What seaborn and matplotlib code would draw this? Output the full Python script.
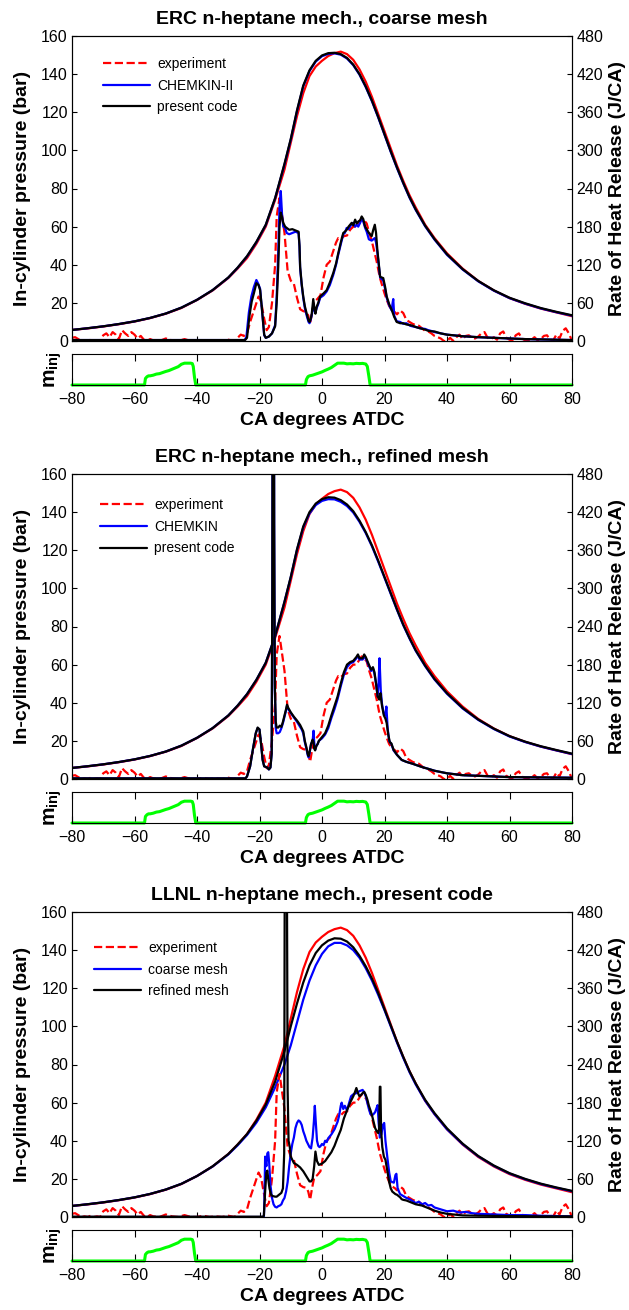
import numpy as np
import pandas as pd
import matplotlib
matplotlib.use('Agg')
import matplotlib.pyplot as plt
import seaborn as sns

# crank angle grid for the pressure traces (deg ATDC)
CA_P = [-80, -75, -70, -65, -60, -55, -50, -45, -40, -35, -30, -27, -24, -21, -18, -15,
        -12, -10, -8, -6, -4, -2, 0, 2, 4, 6, 8, 10, 12, 14, 16, 18, 20, 22, 24, 26, 28,
        30, 33, 36, 40, 45, 50, 55, 60, 65, 70, 75, 80]

# in-cylinder pressure (bar)
P_EXP = [5.8, 6.6, 7.6, 8.8, 10.2, 12.0, 14.3, 17.3, 21.5, 26.5, 33.0, 38.0, 43.5, 51.0, 60.0, 74.0,
         90.0, 104.0, 118.0, 130.0, 139.0, 144.0, 147.0, 149.5, 151.0, 151.8, 150.5, 147.5, 142.5, 136.0,
         128.0, 119.0, 110.0, 101.0, 92.0, 84.0, 76.5, 70.0, 61.0, 54.0, 46.0, 38.0, 31.5, 26.5, 22.5,
         19.5, 17.0, 15.0, 13.0]
P1_CHEMKIN = [5.8, 6.7, 7.7, 8.9, 10.3, 12.1, 14.4, 17.5, 21.6, 26.7, 33.2, 38.4, 44.3, 51.8, 60.8, 74.8,
              92.6, 105.6, 120.6, 133.6, 141.6, 146.6, 149.4, 150.6, 150.9, 150.2, 148.2, 144.7, 139.7,
              133.2, 125.7, 117.2, 108.2, 99.2, 90.7, 82.7, 75.2, 68.7, 60.2, 53.2, 45.2, 37.5, 31.3, 26.4,
              22.5, 19.6, 17.1, 15.1, 13.3]
P1_CODE = [5.8, 6.7, 7.7, 8.9, 10.3, 12.1, 14.4, 17.5, 21.6, 26.7, 33.3, 38.5, 44.5, 52.0, 61.0, 75.0,
           93.0, 106.0, 121.0, 134.0, 142.0, 147.0, 149.8, 151.0, 151.2, 150.5, 148.5, 145.0, 140.0, 133.5,
           126.0, 117.5, 108.5, 99.5, 91.0, 83.0, 75.5, 69.0, 60.5, 53.5, 45.5, 37.7, 31.5, 26.6, 22.7,
           19.8, 17.3, 15.3, 13.5]
P2_CHEMKIN = [5.8, 6.7, 7.7, 8.9, 10.3, 12.1, 14.4, 17.5, 21.6, 26.7, 33.3, 38.5, 44.5, 52.0, 61.0, 75.0,
              93.0, 105.8, 120.2, 132.0, 139.3, 143.7, 145.9, 146.8, 146.7, 145.4, 143.2, 139.8, 134.9,
              129.0, 122.0, 114.0, 105.6, 97.1, 88.7, 80.7, 73.7, 67.2, 59.2, 52.2, 44.7, 37.0, 31.0, 26.2,
              22.3, 19.4, 17.0, 15.0, 13.1]
P2_CODE = [5.8, 6.7, 7.7, 8.9, 10.3, 12.1, 14.4, 17.5, 21.6, 26.7, 33.3, 38.5, 44.5, 52.0, 61.0, 75.0,
           93.0, 106.0, 120.5, 132.5, 140.0, 144.5, 146.8, 147.8, 147.6, 146.3, 144.0, 140.5, 135.5, 129.5,
           122.5, 114.5, 106.0, 97.5, 89.0, 81.0, 74.0, 67.5, 59.5, 52.5, 45.0, 37.3, 31.2, 26.4, 22.5,
           19.6, 17.2, 15.2, 13.3]
P3_COARSE = [5.8, 6.7, 7.7, 8.9, 10.3, 12.1, 14.4, 17.4, 21.5, 26.5, 32.8, 37.6, 43.0, 49.5, 57.5, 68.0,
             80.0, 90.0, 102.0, 114.0, 124.0, 132.0, 138.0, 142.0, 143.8, 143.8, 142.5, 140.0, 136.0, 130.5,
             124.0, 116.5, 108.5, 100.0, 91.5, 83.5, 76.0, 69.5, 61.0, 54.0, 46.0, 38.2, 31.8, 26.8, 22.8,
             19.8, 17.3, 15.3, 13.5]
P3_REFINED = [5.8, 6.7, 7.7, 8.9, 10.3, 12.1, 14.4, 17.4, 21.5, 26.6, 33.0, 38.0, 43.5, 50.5, 59.0, 71.0,
              87.0, 100.0, 112.0, 123.0, 132.0, 138.5, 142.5, 145.0, 146.2, 146.0, 144.5, 141.5, 137.0,
              131.5, 125.0, 117.5, 109.0, 100.5, 92.0, 84.0, 76.5, 70.0, 61.5, 54.5, 46.5, 38.5, 32.0, 27.0,
              23.0, 20.0, 17.5, 15.5, 13.7]

# rate of heat release (J/CA), experiment
HRR_EXP_CA = [-80, -79, -78, -77, -76, -75, -74, -73, -72, -71, -70, -69, -68, -67, -66, -65, -64, -63,
              -62, -61, -60, -59, -58, -57, -56, -55, -54, -52, -50, -48, -46, -44, -42, -40, -38, -36,
              -34, -32, -30, -28, -27, -26, -25, -24, -23, -22, -21, -20.3, -19.5, -18.5, -17.7, -17, -16,
              -15, -14.5, -13.6, -13, -12, -11, -10, -9, -8, -7, -6, -5, -4.4, -3.8, -3.2, -2.5, -1.5,
              -0.5, 0.5, 1.5, 2.5, 3.5, 4.5, 5.2, 6, 7, 8, 9, 10, 11, 12, 12.7, 13.5, 14.3, 15, 15.9,
              17.5, 18.5, 19.1, 20, 20.7, 21.5, 22.5, 23.4, 24, 25, 26, 27, 28, 29, 30, 31, 32, 33, 34,
              35, 36, 37, 38, 39, 40, 41, 42, 43, 44, 45, 46, 47, 48, 49, 50, 51, 52, 53, 54, 55, 56, 57,
              58, 59, 60, 61, 62, 63, 64, 65, 66, 67, 68, 69, 70, 71, 72, 73, 74, 75, 76, 77, 78, 79, 80]
HRR_EXP = [5, 6, 3, 0, 1, 0, 2, 0, 1, 0, 9, 12, 6, 14, 10, 3, 17, 12, 8, 14, 10, 4, 8, 2, 0, 3, 1, 0, 4,
           1, 0, 3, 0, 0, 2, 0, 1, 0, 2, 0, 5, 10, 8, 12, 30, 45, 60, 70, 62, 35, 17, 22, 60, 120, 196, 225,
           205, 170, 110, 95, 90, 68, 50, 47, 46, 40, 27, 45, 62, 66, 72, 100, 120, 125, 140, 155, 162, 160,
           165, 166, 175, 180, 180, 188, 193, 190, 185, 172, 158, 125, 100, 90, 75, 65, 55, 48, 45, 42, 48,
           44, 33, 30, 27, 25, 24, 20, 16, 15, 12, 8, 6, 4, 0, 0, 5, 0, 6, 10, 3, 8, 9, 5, 4, 7, 12, 14, 5,
           3, 6, 2, 12, 15, 5, 2, 1, 9, 12, 4, 1, 0, 2, 6, 1, 3, 8, 9, 2, 1, 10, 4, 16, 20, 12, 0]

# panel 1: ERC mechanism, coarse mesh
HRR1_CHEMKIN_CA = [-80, -60, -40, -30, -24.8, -24.2, -23.4, -22.6, -21.8, -21, -20.4, -19.8, -19.2, -18.5,
                   -18, -17, -16, -15, -14.5, -14, -13.6, -13.2, -12.8, -12.4, -11.8, -11.3, -10.5, -9.5,
                   -8.5, -7.5, -7.2, -7, -6.5, -6, -5.5, -4.9, -4.3, -4, -3.6, -3.3, -2.9, -2.4, -2.1, -1.7,
                   -1.2, -0.6, 0.5, 1.5, 2.5, 3.6, 4.5, 5.2, 6, 6.8, 7.3, 7.9, 8.5, 9.5, 10, 10.6, 11.1,
                   11.6, 12.2, 12.7, 13.2, 13.8, 14.3, 15, 15.9, 16.4, 16.9, 17.3, 17.7, 18.2, 18.6, 19.6,
                   20.2, 20.7, 21.5, 22.3, 22.6, 22.8, 23.1, 23.9, 25, 26, 27, 28.2, 29, 30, 31.4, 33, 34,
                   35.6, 36, 38, 40, 42, 45, 50, 55, 60, 65, 70, 75, 80]
HRR1_CHEMKIN = [1.5, 1.5, 1.5, 1.5, 1.5, 6, 45, 70, 85, 96, 90, 82, 48, 9, 5, 7, 12, 25, 70, 140, 210, 236,
                200, 180, 178, 170, 168, 170, 172, 170, 148, 115, 88, 68, 52, 40, 30, 28, 34, 40, 52, 48,
                45, 52, 58, 68, 72, 78, 88, 104, 120, 136, 152, 168, 170, 178, 176, 184, 186, 180, 183,
                180, 186, 192, 188, 178, 172, 160, 158, 160, 162, 155, 140, 118, 100, 95, 82, 68, 56, 48,
                60, 66, 40, 31, 30, 27, 28, 24, 23, 22, 20, 19, 17, 15, 14, 12, 10, 9, 7.5, 6, 5, 4, 3,
                2.5, 2, 1.5]
HRR1_CODE_CA = [-80, -60, -40, -30, -24.6, -24, -23.2, -22.5, -21.8, -21, -20.3, -19.8, -19.2, -18.5, -18,
                -17, -16, -15, -14.5, -14, -13.6, -13.2, -12.8, -12.4, -11.8, -11.3, -10.5, -9.5, -8.5,
                -7.5, -7.2, -7, -6.5, -6, -5.5, -4.9, -4.3, -4, -3.6, -3.3, -2.8, -2.4, -2.1, -1.7, -1.2,
                -0.6, 0.5, 1.5, 2.5, 3.6, 4.5, 5.2, 6, 6.8, 7.3, 7.9, 8.5, 9.5, 10, 10.6, 11.1, 11.6,
                12.2, 12.7, 13.2, 13.8, 14.3, 15, 15.9, 16.4, 16.9, 17.3, 17.7, 18.2, 18.6, 19.6, 20.2,
                20.7, 21.5, 22.3, 23.1, 23.9, 25, 26, 27, 28.2, 29, 30, 31.4, 33, 34, 35.6, 36, 38, 40,
                42, 45, 50, 55, 60, 65, 70, 75, 80]
HRR1_CODE = [1.5, 1.5, 1.5, 1.5, 1.5, 5, 40, 62, 75, 91, 88, 80, 50, 10, 5, 7, 12, 23, 60, 117, 180, 202,
             195, 186, 180, 178, 175, 176, 174, 172, 150, 117, 90, 70, 55, 43, 32, 30, 35, 42, 66, 50, 43,
             54, 60, 70, 75, 80, 92, 107, 122, 138, 155, 170, 172, 175, 180, 186, 182, 191, 185, 188, 190,
             196, 192, 180, 176, 170, 165, 175, 183, 170, 144, 120, 101, 99, 85, 70, 58, 49, 38, 30, 28,
             28, 26, 25, 24, 22, 20, 18, 16, 15, 15, 12, 10, 9, 7.5, 6, 5, 4, 3, 2.5, 2, 1.5]

# panel 2: ERC mechanism, refined mesh
HRR2_CHEMKIN_CA = [-80, -60, -40, -30, -24.5, -24, -23, -22, -21.2, -20.6, -20, -19.5, -19, -18.5, -18,
                   -17.5, -17, -16.5, -16.1, -15.9, -15.7, -15.5, -15.3, -15.1, -14.8, -14.5, -14, -13.5,
                   -13, -12.5, -12, -11.5, -11.2, -10.8, -10, -9, -8, -7, -6.5, -6, -5.5, -5, -4.6, -4.3,
                   -4, -3.5, -3, -2.7, -2.5, -2.2, -1.8, -1.4, -1, 0, 1, 2, 3, 4, 5, 6, 7, 8, 9, 10, 11,
                   11.5, 12, 13, 13.5, 14, 15, 15.7, 16.3, 16.8, 17.3, 17.8, 18.1, 18.4, 18.8, 19.2, 19.8,
                   20.3, 20.6, 21, 21.5, 22.2, 22.9, 24, 25.5, 27, 29, 31.9, 34, 36, 38, 40, 45, 50, 55,
                   60, 70, 80]
HRR2_CHEMKIN = [1, 1, 1, 1, 1, 4, 20, 50, 72, 80, 78, 55, 30, 20, 19, 18, 15, 18, 40, 300, 1000, 1000,
                400, 140, 80, 72, 72, 74, 80, 88, 98, 108, 115, 110, 104, 97, 90, 82, 78, 72, 58, 48, 38,
                34, 40, 55, 60, 76, 58, 46, 52, 55, 60, 64, 70, 80, 96, 110, 126, 146, 164, 176, 182, 184,
                190, 194, 188, 188, 192, 190, 178, 170, 174, 165, 150, 130, 150, 190, 140, 118, 102, 100,
                114, 80, 60, 55, 45, 38, 30, 27, 24, 19, 16, 13, 11, 9, 6, 5, 4, 3, 2.5, 2]
HRR2_CODE_CA = [-80, -60, -40, -30, -24.5, -24, -23, -22, -21.2, -20.6, -20, -19.5, -19, -18.5, -18,
                -17.5, -17, -16.5, -16.1, -15.9, -15.7, -15.5, -15.3, -15.1, -14.8, -14.5, -14, -13.5,
                -13, -12.5, -12, -11.5, -11.2, -10.8, -10, -9, -8, -7, -6.5, -6, -5.5, -5, -4.6, -4.3,
                -4, -3.5, -3, -2.7, -2.5, -2.2, -1.8, -1.4, -1, 0, 1, 2, 3, 4, 5, 6, 7, 8, 9, 10, 11,
                11.5, 12, 13, 13.5, 14, 15, 15.7, 16.3, 16.8, 17.3, 17.8, 18.3, 18.7, 19.2, 19.8, 20.3,
                20.7, 21.2, 21.7, 22.2, 22.9, 24, 25.5, 27, 29, 31.9, 34, 36, 38, 40, 45, 50, 55, 60, 70,
                80]
HRR2_CODE = [1, 1, 1, 1, 1, 4, 20, 50, 72, 81, 78, 55, 30, 20, 19, 18, 15, 18, 40, 300, 1000, 1000, 400,
             150, 90, 81, 81, 84, 82, 90, 100, 110, 117, 112, 105, 98, 92, 85, 80, 75, 60, 50, 40, 36, 42,
             55, 62, 58, 48, 45, 52, 55, 60, 66, 72, 84, 100, 115, 130, 150, 168, 180, 184, 186, 192, 196,
             190, 190, 196, 192, 180, 172, 176, 168, 150, 130, 125, 135, 115, 100, 95, 88, 70, 58, 56, 46,
             38, 30, 27, 24, 19, 16, 13, 11, 9, 6, 5, 4, 3, 2.5, 2]

# panel 3: LLNL mechanism, present code
HRR3_COARSE_CA = [-80, -20, -18.6, -18.4, -18.2, -17.8, -17.5, -17.2, -16.9, -16.5, -16, -15.5, -15, -14.5,
                  -14, -13.5, -13, -12.5, -12, -11.5, -11, -10.5, -10, -9.5, -9, -8.5, -8, -7.5, -7,
                  -6.5, -6, -5.5, -5, -4.5, -4, -3.5, -3, -2.6, -2.3, -2, -1.6, -1.2, -0.8, -0.4, 0, 0.5,
                  1, 1.5, 2, 3, 4, 5, 5.5, 6, 6.3, 6.8, 7.3, 8, 8.7, 9.3, 10, 11, 12, 13, 13.5, 14, 14.5,
                  15, 15.5, 16, 16.5, 17, 17.5, 17.8, 18.1, 18.5, 19, 19.5, 19.9, 20.3, 21, 21.5, 22,
                  22.5, 23, 23.5, 23.8, 24.2, 25, 26, 27, 28, 29, 30, 31, 32, 33, 34, 35, 36, 38, 40, 42,
                  44, 46, 48, 50, 55, 60, 65, 70, 75, 80]
HRR3_COARSE = [0, 0, 0, 30, 95, 80, 100, 102, 85, 50, 30, 20, 16, 15, 17, 18, 20, 26, 30, 40, 55, 80, 100,
               115, 125, 140, 148, 152, 150, 145, 135, 128, 120, 115, 110, 108, 125, 150, 175, 150, 120,
               112, 110, 112, 115, 113, 120, 118, 124, 130, 138, 150, 160, 175, 180, 170, 175, 168, 180,
               190, 193, 195, 198, 200, 196, 190, 180, 170, 162, 160, 162, 165, 172, 176, 150, 125, 130,
               145, 148, 120, 90, 70, 56, 55, 54, 66, 68, 45, 36, 33, 30, 28, 25, 22, 24, 20, 22, 18, 19,
               15, 12, 9, 10, 7, 8, 6, 5, 4, 3, 3, 2, 1.5, 1]
HRR3_REFINED_CA = [-80, -19, -18.6, -18.2, -17.8, -17.5, -17.2, -16.8, -16.3, -15.8, -15, -14.5, -14, -13.5,
                   -13, -12.5, -12.1, -11.9, -11.7, -11.4, -11.2, -11, -10.7, -10.3, -10, -9, -8, -7, -6,
                   -5, -4.5, -4, -3.5, -3, -2.5, -2.1, -1.6, -1, 0, 1, 2, 3, 4, 5, 6, 7, 8, 9, 10, 10.5,
                   11, 11.5, 12, 12.5, 13, 13.5, 14, 14.5, 15, 15.5, 16, 16.5, 17, 17.5, 18, 18.3, 18.5,
                   18.7, 18.9, 19.3, 19.8, 20.3, 21, 21.5, 22, 22.5, 23, 23.5, 24, 24.5, 25, 25.5, 26, 27,
                   28, 29, 30, 31, 32, 33, 34, 35, 36, 38, 40, 42, 45, 50, 60, 70, 80]
HRR3_REFINED = [0.5, 0.5, 2, 40, 70, 73, 60, 45, 35, 33, 32, 32, 34, 36, 38, 45, 100, 600, 1000, 1000, 500,
                200, 120, 110, 95, 85, 82, 78, 72, 64, 60, 56, 56, 60, 80, 103, 88, 82, 84, 88, 95, 102,
                112, 125, 137, 155, 168, 180, 190, 196, 203, 195, 190, 192, 195, 197, 192, 185, 175, 168,
                160, 150, 140, 135, 132, 140, 205, 205, 137, 110, 95, 90, 70, 55, 45, 40, 38, 36, 35, 33,
                31, 28, 27, 26, 24, 22, 20, 19, 18, 16, 14, 12, 10, 7, 5, 4, 2.5, 2, 1.5, 1, 1]

# injected fuel mass profile (relative), same for all cases
INJ_CA = [-80, -56.8, -56.5, -56, -55.5, -55, -54, -53, -52, -51, -50, -49, -48, -47, -46, -45, -44,
          -43, -42, -41.5, -41.2, -40.8, -40.4, -5.3, -5, -4.5, -4, -3, -2, -1, 0, 1, 2, 3, 4, 5, 6,
          7, 8, 9, 10, 11, 12, 13, 14, 14.5, 15, 15.4, 80]
INJ = [0, 0, 0.3, 0.38, 0.42, 0.42, 0.45, 0.5, 0.52, 0.57, 0.62, 0.66, 0.72, 0.78, 0.84, 0.95, 1.0, 1.0,
       1.0, 0.98, 0.85, 0.35, 0, 0, 0.25, 0.38, 0.42, 0.45, 0.5, 0.55, 0.6, 0.67, 0.73, 0.8, 0.9, 1.0,
       1.0, 1.0, 0.97, 0.98, 0.97, 0.99, 0.98, 0.99, 0.96, 0.85, 0.4, 0, 0]

PANELS = [
    dict(title='ERC n-heptane mech., coarse mesh',
         labels=['experiment', 'CHEMKIN-II', 'present code'],
         p_sim=[P1_CHEMKIN, P1_CODE],
         hrr_sim=[(HRR1_CHEMKIN_CA, HRR1_CHEMKIN), (HRR1_CODE_CA, HRR1_CODE)],
         leg=(0.062, 0.931)),
    dict(title='ERC n-heptane mech., refined mesh',
         labels=['experiment', 'CHEMKIN', 'present code'],
         p_sim=[P2_CHEMKIN, P2_CODE],
         hrr_sim=[(HRR2_CHEMKIN_CA, HRR2_CHEMKIN), (HRR2_CODE_CA, HRR2_CODE)],
         leg=(0.056, 0.921)),
    dict(title='LLNL n-heptane mech., present code',
         labels=['experiment', 'coarse mesh', 'refined mesh'],
         p_sim=[P3_COARSE, P3_REFINED],
         hrr_sim=[(HRR3_COARSE_CA, HRR3_COARSE), (HRR3_REFINED_CA, HRR3_REFINED)],
         leg=(0.044, 0.905)),
]

RED, BLUE, BLACK, GREEN = '#ff0000', '#0000ff', '#000000', '#00ff00'

sns.set_theme(style='white')
plt.rcParams['font.family'] = ['Liberation Sans', 'DejaVu Sans']
plt.rcParams['mathtext.fontset'] = 'custom'
plt.rcParams['mathtext.bf'] = 'Liberation Sans:bold'
plt.rcParams['mathtext.rm'] = 'Liberation Sans'
plt.rcParams['axes.linewidth'] = 0.8
plt.rcParams['axes.edgecolor'] = 'black'
for key in ['text.color', 'axes.labelcolor', 'xtick.color', 'ytick.color']:
    plt.rcParams[key] = 'black'

W, H = 629, 1310
fig = plt.figure(figsize=(W / 100, H / 100), dpi=100)

LW = 1.6
TICK_FS = 11.5
LAB_FS = 14


def frac(left, top, right, bottom):
    return [left / W, 1 - bottom / H, (right - left) / W, (bottom - top) / H]


for i, pan in enumerate(PANELS):
    off = 438 * i
    ax = fig.add_axes(frac(72, 36 + off, 572, 341 + off))
    ax2 = ax.twinx()
    axi = fig.add_axes(frac(72, 354 + off, 572, 385 + off))

    colors = [RED, BLUE, BLACK]
    # pressure on left axis (all solid)
    for p, c in zip([P_EXP] + pan['p_sim'], colors):
        df = pd.DataFrame({'CA': CA_P, 'p': p})
        sns.lineplot(data=df, x='CA', y='p', ax=ax, color=c, lw=LW, estimator=None, legend=False)
    # heat release on right axis, experiment dashed
    handles = []
    hrr_all = [(HRR_EXP_CA, HRR_EXP)] + pan['hrr_sim']
    for j, ((ca, q), c) in enumerate(zip(hrr_all, colors)):
        df = pd.DataFrame({'CA': ca, 'q': q})
        sns.lineplot(data=df, x='CA', y='q', ax=ax2, color=c, lw=LW,
                     linestyle='--' if j == 0 else '-', estimator=None, legend=False)
        handles.append(ax2.lines[-1])

    ax.set_xlim(-80, 80)
    ax.set_ylim(0, 160)
    ax2.set_ylim(0, 480)
    ax.set_xticks(np.arange(-80, 81, 20))
    ax.set_xticklabels([])
    ax.set_yticks(np.arange(0, 161, 20))
    ax2.set_yticks(np.arange(0, 481, 60))
    ax.tick_params(axis='both', direction='in', length=3.5, width=0.8, labelsize=TICK_FS,
                   left=True, bottom=True, right=False, top=False, pad=3)
    ax2.tick_params(axis='y', direction='in', length=3.5, width=0.8, labelsize=TICK_FS,
                    right=True, left=False, pad=3)
    ax.set_xlabel('')
    ax2.set_xlabel('')
    ax.set_ylabel('In-cylinder pressure (bar)', fontsize=LAB_FS, fontweight='bold')
    ax.yaxis.set_label_coords(-0.082, 0.5)
    ax2.set_ylabel('Rate of Heat Release (J/CA)', fontsize=LAB_FS, fontweight='bold')
    ax2.yaxis.set_label_coords(1.074, 0.5)
    ax.set_title(pan['title'], fontsize=LAB_FS, fontweight='bold', pad=9)
    for sp in ax.spines.values():
        sp.set_visible(True)

    ax2.legend(handles=handles, labels=pan['labels'], loc='upper left', bbox_to_anchor=pan['leg'],
               frameon=False, fontsize=10, handlelength=3.4, handletextpad=0.5,
               labelspacing=0.55, borderpad=0, borderaxespad=0)

    # injection profile
    df = pd.DataFrame({'CA': INJ_CA, 'm': INJ})
    sns.lineplot(data=df, x='CA', y='m', ax=axi, color=GREEN, lw=2.2, estimator=None,
                 legend=False, clip_on=False)
    axi.set_xlim(-80, 80)
    axi.set_ylim(0, 1.42)
    axi.set_xticks(np.arange(-80, 81, 20))
    axi.set_yticks([])
    axi.tick_params(axis='x', direction='in', length=5, width=0.8, labelsize=TICK_FS,
                    top=True, bottom=True, pad=5)
    axi.set_ylabel(r'$\mathbf{m_{inj}}$', fontsize=LAB_FS + 1)
    axi.yaxis.set_label_coords(-0.016, 0.5)
    axi.set_xlabel('CA degrees ATDC', fontsize=LAB_FS, fontweight='bold')
    axi.xaxis.set_label_coords(0.5, -1.13)
    axi.xaxis.label.set_va('center')
    for sp in axi.spines.values():
        sp.set_visible(True)

fig.savefig('out.png', dpi=100)
